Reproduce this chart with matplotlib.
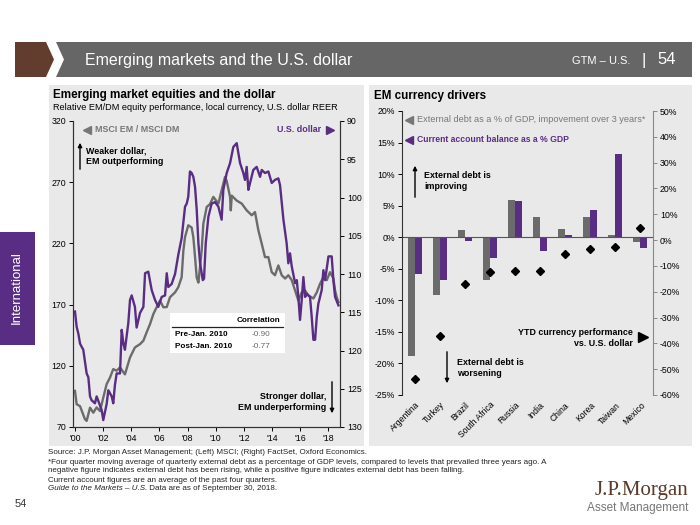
import matplotlib
matplotlib.use('Agg')
import matplotlib.pyplot as plt
from matplotlib import font_manager
from matplotlib.patches import Rectangle, Polygon
import numpy as np

# slide: emerging markets and the U.S. dollar (two panels)

# ---- left panel data: relative EM/DM equity performance (left axis) ----
em_years = [2000.0, 2000.12, 2000.36, 2000.71, 2000.83, 2001.07, 2001.30, 2001.54, 2001.78,
            2002.01, 2002.25, 2002.49, 2002.72, 2002.96, 2003.20, 2003.55, 2003.91, 2004.26,
            2004.62, 2004.86, 2005.09, 2005.33, 2005.57, 2005.80, 2006.04, 2006.28, 2006.52,
            2006.75, 2007.11, 2007.34, 2007.58, 2007.70, 2007.82, 2008.05, 2008.29, 2008.41,
            2008.53, 2008.65, 2008.77, 2009.00, 2009.12, 2009.36, 2009.59, 2009.83, 2010.19,
            2010.42, 2010.66, 2010.78, 2011.02, 2011.07, 2011.14, 2011.49, 2011.85, 2012.20,
            2012.56, 2012.79, 2013.03, 2013.27, 2013.50, 2013.74, 2013.98, 2014.21, 2014.45,
            2014.69, 2014.93, 2015.16, 2015.40, 2015.64, 2015.87, 2016.11, 2016.35, 2016.58,
            2016.94, 2017.18, 2017.41, 2017.65, 2017.89, 2018.12, 2018.36, 2018.48, 2018.60,
            2018.72]
em_dm = [99.5, 88.6, 87.0, 76.3, 75.0, 85.8, 81.7, 86.0, 83.0,
         94.0, 105.0, 110.4, 117.3, 116.0, 118.7, 113.0, 126.8, 135.0,
         137.7, 140.5, 147.3, 154.0, 162.3, 167.8, 173.3, 167.8, 168.0,
         176.0, 180.0, 184.2, 192.4, 214.0, 225.2, 234.8, 233.0, 225.0,
         209.0, 192.0, 188.0, 214.0, 236.0, 249.8, 252.0, 258.0, 252.5,
         263.4, 274.3, 271.0, 258.0, 247.0, 259.0, 255.0, 252.5, 247.0,
         243.0, 245.6, 230.7, 219.7, 208.8, 208.8, 196.5, 194.0, 202.0,
         194.0, 191.3, 194.0, 190.0, 181.5, 173.3, 180.0, 181.5, 177.5,
         175.0, 180.0, 187.0, 192.4, 190.0, 196.5, 191.3, 181.5, 176.0,
         172.0]

# ---- U.S. dollar REER (right axis, inverted) ----
usd_years = [2000.0, 2000.12, 2000.24, 2000.36, 2000.47, 2000.59, 2000.83, 2000.95, 2001.07,
             2001.18, 2001.42, 2001.54, 2001.66, 2001.90, 2002.01, 2002.25, 2002.37, 2002.61,
             2002.72, 2002.84, 2002.96, 2003.20, 2003.32, 2003.44, 2003.55, 2003.79, 2003.91,
             2004.03, 2004.26, 2004.38, 2004.62, 2004.86, 2004.98, 2005.21, 2005.45, 2005.69,
             2005.92, 2006.16, 2006.40, 2006.52, 2006.63, 2006.87, 2007.11, 2007.34, 2007.58,
             2007.82, 2007.94, 2008.05, 2008.17, 2008.29, 2008.41, 2008.53, 2008.65, 2008.77,
             2008.89, 2009.08, 2009.17, 2009.29, 2009.48, 2009.71, 2009.95, 2010.19, 2010.42,
             2010.54, 2010.78, 2011.02, 2011.25, 2011.49, 2011.61, 2011.73, 2011.96, 2012.08,
             2012.20, 2012.32, 2012.44, 2012.67, 2012.91, 2013.15, 2013.27, 2013.50, 2013.74,
             2013.98, 2014.21, 2014.45, 2014.57, 2014.81, 2015.04, 2015.16, 2015.28, 2015.40,
             2015.64, 2015.76, 2015.87, 2015.99, 2016.11, 2016.23, 2016.35, 2016.47, 2016.70,
             2016.82, 2016.94, 2017.06, 2017.18, 2017.29, 2017.53, 2017.65, 2017.77, 2018.01,
             2018.24, 2018.36, 2018.48, 2018.72]
usd_reer = [114.9, 116.9, 117.8, 119.1, 119.5, 119.9, 123.0, 123.5, 126.0,
            126.5, 126.9, 126.0, 126.6, 127.8, 129.1, 127.0, 125.2, 126.0,
            126.9, 124.5, 123.0, 123.0, 117.3, 119.1, 119.9, 116.4, 113.4,
            112.8, 114.3, 117.0, 115.1, 114.3, 109.9, 109.7, 112.1, 113.4,
            114.3, 113.0, 112.8, 109.9, 111.7, 111.3, 110.0, 107.5, 105.3,
            101.2, 100.8, 99.9, 96.6, 96.8, 97.3, 98.6, 101.6, 106.0,
            108.6, 110.8, 110.6, 106.0, 102.5, 100.8, 100.6, 101.2, 102.9,
            99.0, 96.8, 95.5, 93.4, 92.9, 94.2, 95.5, 96.8, 97.7,
            96.0, 99.0, 98.1, 96.4, 96.0, 97.3, 96.4, 96.8, 96.6,
            98.1, 97.7, 97.5, 98.4, 102.9, 106.0, 108.6, 107.3, 109.0,
            111.2, 110.8, 113.0, 116.0, 113.4, 110.4, 113.0, 112.6, 113.0,
            115.6, 118.6, 118.6, 115.6, 113.9, 112.1, 109.5, 110.8, 107.7,
            107.7, 110.8, 113.0, 114.1]

year_ticks = [2000, 2002, 2004, 2006, 2008, 2010, 2012, 2014, 2016, 2018]
year_labels = ["'00", "'02", "'04", "'06", "'08", "'10", "'12", "'14", "'16", "'18"]
corr_rows = ['Pre-Jan. 2010', 'Post-Jan. 2010']
corr_vals = ['-0.90', '-0.77']

# ---- right panel data: EM currency drivers ----
countries = ['Argentina', 'Turkey', 'Brazil', 'South Africa', 'Russia', 'India',
             'China', 'Korea', 'Taiwan', 'Mexico']
ext_debt = [-18.8, -9.2, 1.1, -6.7, 5.85, 3.15, 1.3, 3.2, 0.3, -0.75]
cur_acct = [-5.9, -6.7, -0.65, -3.3, 5.7, -2.2, 0.4, 4.3, 13.2, -1.7]
ytd_fx = [-53.9, -37.0, -17.0, -12.4, -12.0, -12.0, -5.3, -3.4, -2.5, 4.7]

footnotes = [
    'Source: J.P. Morgan Asset Management; (Left) MSCI; (Right) FactSet, Oxford Economics.',
    '*Four quarter moving average of quarterly external debt as a percentage of GDP levels, '
    'compared to levels that prevailed three years ago. A',
    'negative figure indicates external debt has been rising, while a positive figure indicates '
    'external debt has been falling.',
    'Current account figures are an average of the past four quarters.',
]

# colours
purple = '#5a2d84'
gray = '#6b6b6b'
panel = '#e9e9e9'
brown = '#623c2d'

installed = {f.name for f in font_manager.fontManager.ttflist}
narrow = 'Liberation Sans Narrow' if 'Liberation Sans Narrow' in installed else 'Liberation Sans'
plt.rcParams['font.family'] = ['Liberation Sans', 'DejaVu Sans']

fig = plt.figure(figsize=(7, 5.25), dpi=100)

# background / overlay axes in pixel units (y down)
bg = fig.add_axes([0, 0, 1, 1], zorder=0)
fg = fig.add_axes([0, 0, 1, 1], zorder=10)
for a in (bg, fg):
    a.set_xlim(0, 700)
    a.set_ylim(525, 0)
    a.axis('off')
fg.patch.set_alpha(0)

# header bar
bg.add_patch(Polygon([(15, 42), (46, 42), (54, 59.5), (46, 77), (15, 77)], color=brown, lw=0))
bg.add_patch(Polygon([(56, 42), (692, 42), (692, 77), (56, 77), (64, 59.5)], color='#666666', lw=0))
bg.text(85, 60, 'Emerging markets and the U.S. dollar', color='white', fontsize=11.5,
        family=[narrow, 'DejaVu Sans'], va='center')
bg.text(630, 61, 'GTM – U.S.', color='white', fontsize=8, family=[narrow, 'DejaVu Sans'],
        va='center', ha='right')
bg.text(644, 60, '|', color='white', fontsize=12, va='center', ha='center')
bg.text(676, 60, '54', color='white', fontsize=12, family=[narrow, 'DejaVu Sans'],
        va='center', ha='right')

# panels
bg.add_patch(Rectangle((49, 85), 315, 361, color=panel, lw=0))
bg.add_patch(Rectangle((369, 85), 323, 361, color=panel, lw=0))

# side tab
bg.add_patch(Rectangle((0, 232), 35, 113, color=purple, lw=0))
bg.text(17, 288, 'International', color='white', fontsize=9.5, rotation=90,
        ha='center', va='center', family=[narrow, 'DejaVu Sans'])

# panel titles
bg.text(53, 95, 'Emerging market equities and the dollar', fontsize=8.4, fontweight='bold', va='center')
bg.text(53, 108, 'Relative EM/DM equity performance, local currency, U.S. dollar REER',
        fontsize=6.6, va='center')
bg.text(374, 96, 'EM currency drivers', fontsize=8.4, fontweight='bold', va='center')

# ---------------- left chart ----------------
ax = fig.add_axes([73 / 700, 1 - 427 / 525, 267 / 700, 306 / 525], zorder=2)
ax.patch.set_alpha(0)
ax.plot(em_years, em_dm, color=gray, lw=1.7)
ax.set_xlim(1999.86, 2018.83)
ax.set_ylim(70, 320)
ax.set_yticks([70, 120, 170, 220, 270, 320])
ax.set_xticks(year_ticks)
ax.set_xticklabels(year_labels)
ax.tick_params(labelsize=6.3, length=3, width=0.7, pad=2)
ax.spines['top'].set_visible(False)

ax2 = ax.twinx()
ax2.plot(usd_years, usd_reer, color=purple, lw=1.7)
ax2.set_ylim(130, 90)
ax2.set_yticks([90, 95, 100, 105, 110, 115, 120, 125, 130])
ax2.tick_params(labelsize=6.3, length=3, width=0.7, pad=2)
ax2.spines['top'].set_visible(False)
for a in (ax, ax2):
    for s in a.spines.values():
        s.set_linewidth(0.8)
        s.set_color('#333333')

# left chart annotations
fg.plot([87], [130], marker='<', ms=6, color='#777777', lw=0)
fg.text(95, 130, 'MSCI EM / MSCI DM', color='#777777', fontsize=6.4, fontweight='bold', va='center')
fg.text(321, 130, 'U.S. dollar', color=purple, fontsize=6.4, fontweight='bold', va='center', ha='right')
fg.plot([330], [130], marker='>', ms=6, color=purple, lw=0)
fg.annotate('', xy=(80, 140), xytext=(80, 172),
            arrowprops=dict(arrowstyle='-|>', color='black', lw=1, mutation_scale=6))
fg.text(86, 156, 'Weaker dollar,\nEM outperforming', fontsize=6.4, fontweight='bold',
        va='center', linespacing=1.2)
fg.text(326, 402, 'Stronger dollar,\nEM underperforming', fontsize=6.4, fontweight='bold',
        va='center', ha='right', linespacing=1.2)
fg.annotate('', xy=(332, 416), xytext=(332, 379),
            arrowprops=dict(arrowstyle='-|>', color='black', lw=1, mutation_scale=6))

# correlation table
fg.add_patch(Rectangle((170, 313), 115, 40, facecolor='white', edgecolor='none'))
fg.text(280, 321, 'Correlation', fontsize=5.9, fontweight='bold', ha='right', va='center')
fg.plot([172, 283], [327, 327], color='#222222', lw=0.9)
for i in range(len(corr_rows)):
    fg.text(175, 334 + 12 * i, corr_rows[i], fontsize=5.9, fontweight='bold', va='center')
    fg.text(261, 334 + 12 * i, corr_vals[i], fontsize=5.9, color='#666666', va='center', ha='center')

# ---------------- right chart ----------------
x = np.arange(len(countries))
ax3 = fig.add_axes([402 / 700, 1 - 395 / 525, 251 / 700, 284 / 525], zorder=2)
ax3.patch.set_alpha(0)
ax3.bar(x - 0.14, ext_debt, 0.28, color=gray)
ax3.bar(x + 0.14, cur_acct, 0.28, color=purple)
ax3.axhline(0, color='#555555', lw=0.8)
ax3.set_xlim(-0.5, 9.5)
ax3.set_ylim(-25, 20)
pct_left = [-25, -20, -15, -10, -5, 0, 5, 10, 15, 20]
ax3.set_yticks(pct_left)
ax3.set_yticklabels([f'{v}%' for v in pct_left])
ax3.set_xticks(x)
ax3.set_xticklabels(countries, rotation=45, ha='right', rotation_mode='anchor')
ax3.tick_params(axis='x', length=0, pad=4, labelsize=6.2)
ax3.tick_params(axis='y', labelsize=6.3, length=3, width=0.7, pad=2)
for s in ['top', 'bottom', 'right']:
    ax3.spines[s].set_visible(False)
ax3.spines['left'].set_linewidth(0.8)
ax3.spines['left'].set_color('#333333')

ax4 = ax3.twinx()
ax4.plot(x, ytd_fx, 'D', color='black', ms=4.5)
ax4.set_ylim(-60, 50)
pct_right = [-60, -50, -40, -30, -20, -10, 0, 10, 20, 30, 40, 50]
ax4.set_yticks(pct_right)
ax4.set_yticklabels([f'{v}%' for v in pct_right])
ax4.tick_params(labelsize=6.3, length=3, width=0.7, pad=2, color='#888888')
for s in ['top', 'bottom', 'left']:
    ax4.spines[s].set_visible(False)
ax4.spines['right'].set_color('#888888')
ax4.spines['right'].set_linewidth(0.8)

# right chart annotations
fg.plot([409], [120], marker='<', ms=6, color='#777777', lw=0)
fg.text(417, 120, 'External debt as a % of GDP, impovement over 3 years*', color='#777777',
        fontsize=6.6, va='center')
fg.plot([409], [140], marker='<', ms=6, color=purple, lw=0)
fg.text(417, 140, 'Current account balance as a % GDP', color=purple, fontsize=6.2,
        fontweight='bold', va='center')
fg.annotate('', xy=(415, 163), xytext=(415, 200),
            arrowprops=dict(arrowstyle='-|>', color='black', lw=1, mutation_scale=6))
fg.text(424, 181, 'External debt is\nimproving', fontsize=6.4, fontweight='bold',
        va='center', linespacing=1.2)
fg.annotate('', xy=(447, 386), xytext=(447, 349),
            arrowprops=dict(arrowstyle='-|>', color='black', lw=1, mutation_scale=6))
fg.text(457, 368, 'External debt is\nworsening', fontsize=6.4, fontweight='bold',
        va='center', linespacing=1.2)
fg.text(633, 338, 'YTD currency performance\nvs. U.S. dollar', fontsize=6.4, fontweight='bold',
        va='center', ha='right', multialignment='right', linespacing=1.2)
fg.plot([643], [337], marker='>', ms=7, color='black', lw=0)

# footer
for i, line in enumerate(footnotes):
    fg.text(48, 453 + 9 * i, line, fontsize=5.8, va='center', color='#222222')
guide = fg.text(48, 489, 'Guide to the Markets – U.S.', fontsize=5.8, style='italic',
                va='center', color='#222222')
fg.annotate(' Data are as of September 30, 2018.', xy=(1, 0.5), xycoords=guide,
            fontsize=5.8, va='center', color='#222222')
fg.text(15, 504, '54', fontsize=8, va='center', color='#333333')

# logo
fg.text(688, 490, 'J.P.Morgan', fontsize=15, family=['Liberation Serif', 'DejaVu Serif'],
        color='#5b3a29', ha='right', va='center')
fg.text(688, 508, 'Asset Management', fontsize=8.5, family=[narrow, 'DejaVu Sans'],
        color='#777777', ha='right', va='center')

fig.savefig('out.png', dpi=100)
